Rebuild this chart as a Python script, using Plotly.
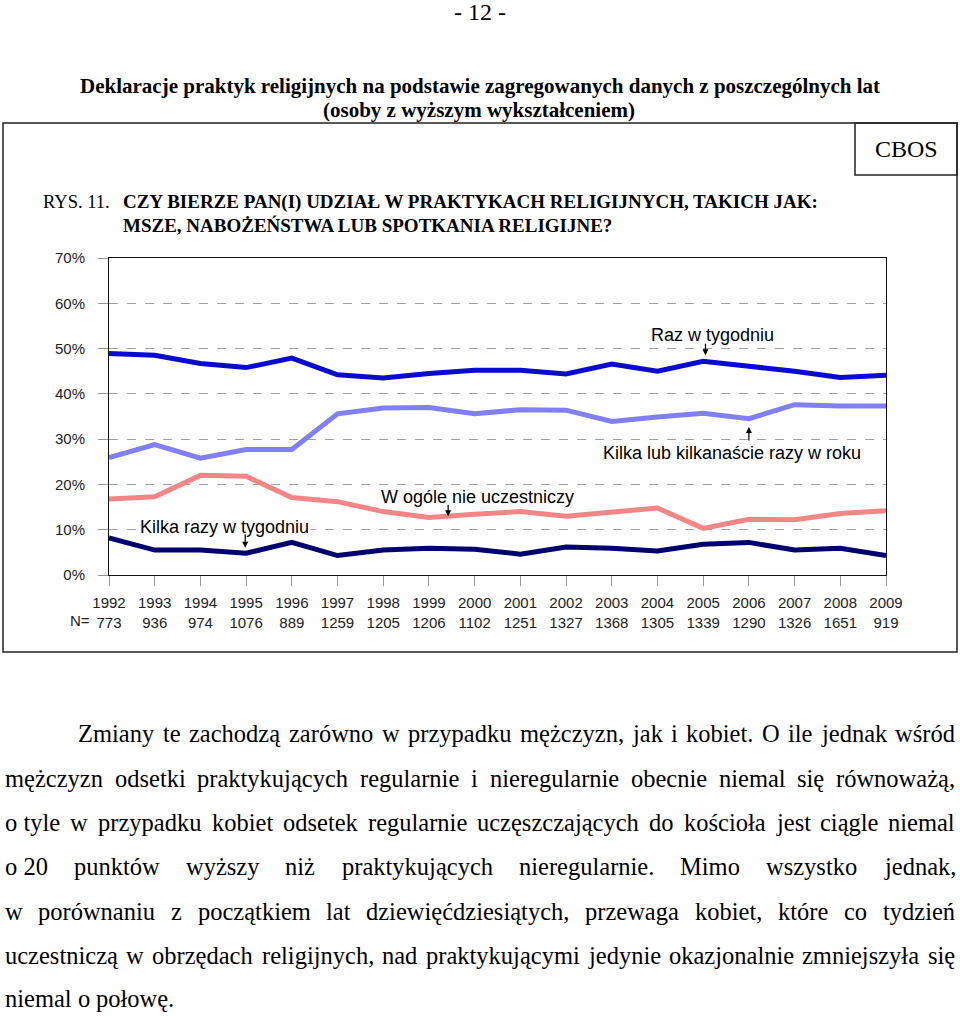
import plotly.graph_objects as go

# ---------------- data ----------------
years = list(range(1992, 2010))
n_sizes = [773, 936, 974, 1076, 889, 1259, 1205, 1206, 1102, 1251, 1327, 1368, 1305, 1339, 1290, 1326, 1651, 919]

raz_w_tygodniu = [48.9, 48.5, 46.7, 45.8, 47.9, 44.2, 43.5, 44.5, 45.2, 45.2, 44.4, 46.6, 45.0, 47.2, 46.1, 45.0, 43.6, 44.1]
kilka_w_roku = [25.9, 28.8, 25.8, 27.7, 27.7, 35.6, 36.9, 37.0, 35.6, 36.5, 36.4, 33.9, 34.9, 35.7, 34.5, 37.6, 37.3, 37.3]
w_ogole_nie = [16.8, 17.3, 22.0, 21.8, 17.1, 16.2, 14.0, 12.7, 13.4, 14.0, 13.0, 13.9, 14.8, 10.3, 12.3, 12.2, 13.6, 14.2]
kilka_w_tygodniu = [8.2, 5.5, 5.5, 4.8, 7.2, 4.3, 5.5, 5.9, 5.7, 4.6, 6.2, 5.9, 5.3, 6.8, 7.2, 5.5, 5.9, 4.3]

series_names = ["Raz w tygodniu", "Kilka lub kilkanaście razy w roku",
                "W ogóle nie uczestniczy", "Kilka razy w tygodniu"]
series_values = [raz_w_tygodniu, kilka_w_roku, w_ogole_nie, kilka_w_tygodniu]
series_colors = ["#0a0ad0", "#8080f4", "#f28686", "#00006e"]

y_ticks = [0, 10, 20, 30, 40, 50, 60, 70]
y_tick_labels = ["0%", "10%", "20%", "30%", "40%", "50%", "60%", "70%"]

page_number = "- 12 -"
title_lines = ["Deklaracje praktyk religijnych na podstawie zagregowanych danych z poszczególnych lat",
               "(osoby z wyższym wykształceniem)"]
question_lines = ["CZY BIERZE PAN(I) UDZIAŁ W PRAKTYKACH RELIGIJNYCH, TAKICH JAK:",
                  "MSZE, NABOŻEŃSTWA LUB SPOTKANIA RELIGIJNE?"]
NB = "\u00a0"
body_lines = [
    "Zmiany te zachodzą zarówno w przypadku mężczyzn, jak i kobiet. O ile jednak wśród",
    "mężczyzn odsetki praktykujących regularnie i nieregularnie obecnie niemal się równoważą,",
    "o" + NB + "tyle w przypadku kobiet odsetek regularnie uczęszczających do kościoła jest ciągle niemal",
    "o" + NB + "20 punktów wyższy niż praktykujących nieregularnie. Mimo wszystko jednak,",
    "w porównaniu z początkiem lat dziewięćdziesiątych, przewaga kobiet, które co tydzień",
    "uczestniczą w obrzędach religijnych, nad praktykującymi jedynie okazjonalnie zmniejszyła się",
    "niemal o połowę.",
]

# ---------------- layout geometry ----------------
W, H = 960, 1016
L, R, T, B = 109, 886, 258, 575
PW, PH = R - L, B - T

def px(x):
    return (x - L) / PW

def py(y):
    return (B - y) / PH

SERIF = "Liberation Serif, Times New Roman, serif"
SANS = "Liberation Sans, Arial, sans-serif"

fig = go.Figure()
for name, vals, col in zip(series_names, series_values, series_colors):
    fig.add_trace(go.Scatter(x=years, y=vals, mode="lines", name=name,
                             line=dict(color=col, width=5), cliponaxis=False))

ann = []
shapes = []

# page number and titles
ann.append(dict(text=page_number, x=px(480), y=py(12), font=dict(family=SERIF, size=24, color="#000")))
ann.append(dict(text="<b>" + title_lines[0] + "</b>", x=px(480), y=py(86), font=dict(family=SERIF, size=21, color="#000")))
ann.append(dict(text="<b>" + title_lines[1] + "</b>", x=px(479), y=py(110), font=dict(family=SERIF, size=21, color="#000")))

# frame
shapes.append(dict(type="rect", xref="paper", yref="paper", x0=px(3), x1=px(957), y0=py(652), y1=py(123),
                   line=dict(color="#222", width=1.5)))
shapes.append(dict(type="rect", xref="paper", yref="paper", x0=px(855), x1=px(957), y0=py(175), y1=py(123),
                   line=dict(color="#222", width=1.5)))
ann.append(dict(text="CBOS", x=px(906), y=py(149), font=dict(family=SERIF, size=24, color="#000")))

ann.append(dict(text="RYS. 11.", x=px(41), y=py(202), xanchor="left", font=dict(family=SERIF, size=18.5, color="#000")))
ann.append(dict(text="<b>" + question_lines[0] + "</b>", x=px(121), y=py(202), xanchor="left", font=dict(family=SERIF, size=19, color="#000")))
ann.append(dict(text="<b>" + question_lines[1] + "</b>", x=px(121), y=py(225), xanchor="left", font=dict(family=SERIF, size=19, color="#000")))

ann.append(dict(text="N=", x=px(80), y=py(620), font=dict(family=SANS, size=15, color="#222")))

# in-chart labels (data coordinates)
lab_font = dict(family=SANS, size=18, color="#000")
ann.append(dict(text=series_names[0], xref="x", yref="y", x=2005.2, y=53.0, font=lab_font, bgcolor="white"))
ann.append(dict(text=series_names[1], xref="x", yref="y", x=2005.63, y=26.9, font=lab_font, bgcolor="white"))
ann.append(dict(text=series_names[2], xref="x", yref="y", x=2000.07, y=17.2, font=lab_font, bgcolor="white"))
ann.append(dict(text=series_names[3], xref="x", yref="y", x=1994.52, y=10.6, font=lab_font, bgcolor="white"))
arrows = [(2005.05, 48.5, -13), (2006.0, 32.7, 15), (1999.42, 13.0, -13), (1994.98, 6.0, -15)]
for ax_, ay_, off in arrows:
    ann.append(dict(text="", xref="x", yref="y", x=ax_, y=ay_, ax=0, ay=off, showarrow=True,
                    arrowhead=2, arrowsize=1, arrowwidth=1.2, arrowcolor="#000"))

# body text (justified, Times metrics)
TW = {' ': 250, NB: 250, 'a': 444, 'b': 500, 'c': 444, 'd': 500, 'e': 444, 'f': 333, 'g': 500, 'h': 500, 'i': 278,
      'j': 278, 'k': 500, 'l': 278, 'm': 778, 'n': 500, 'o': 500, 'p': 500, 'q': 500, 'r': 333, 's': 389,
      't': 278, 'u': 500, 'v': 500, 'w': 722, 'x': 500, 'y': 500, 'z': 444, 'M': 889, 'O': 722, 'Z': 611,
      ',': 250, '.': 250, 'ą': 444, 'ę': 444, 'ó': 500, 'ś': 389, 'ż': 444, 'ź': 444, 'ć': 444, 'ń': 500,
      'ł': 278}

def tw(s, size):
    return sum(TW.get(c, 500) for c in s) / 1000 * size

BODY = 24.5
line_y = [733, 778, 822, 866, 911, 955, 999]
for i, line in enumerate(body_lines):
    words = line.split(" ")
    left = 78 if i == 0 else 5
    right = 955
    widths = [tw(w_, BODY) for w_ in words]
    if i == len(body_lines) - 1:
        gap = 0.25 * BODY
    else:
        gap = (right - left - sum(widths)) / (len(words) - 1)
    x = left
    for w_, wd in zip(words, widths):
        ann.append(dict(text=w_, x=px(x - 2), y=py(line_y[i]), xanchor="left",
                        font=dict(family=SERIF, size=BODY, color="#000")))
        x += wd + gap

for a in ann:
    a.setdefault("xref", "paper")
    a.setdefault("yref", "paper")
    a.setdefault("showarrow", False)
    a.setdefault("yanchor", "middle")
    a.setdefault("xanchor", "center")

fig.update_layout(
    width=W, height=H,
    margin=dict(l=L, r=W - R, t=T, b=H - B, pad=0),
    paper_bgcolor="white", plot_bgcolor="white",
    showlegend=False,
    annotations=ann, shapes=shapes,
    xaxis=dict(range=[1992, 2009], tickvals=years,
               ticktext=[f"{y}<br>{n}" for y, n in zip(years, n_sizes)],
               ticks="outside", ticklen=10, tickcolor="#999", tickwidth=1,
               showgrid=False, zeroline=False, showline=True, linecolor="#111", linewidth=1, mirror=True,
               tickfont=dict(family=SANS, size=15, color="#222"), ticklabelstandoff=4),
    yaxis=dict(range=[0, 70], tickvals=y_ticks, ticktext=y_tick_labels,
               ticks="outside", ticklen=10, tickcolor="#999", tickwidth=1,
               showgrid=True, gridcolor="#a0a0a0", gridwidth=1, griddash="dash",
               zeroline=False, showline=True, linecolor="#111", linewidth=1, mirror=True,
               tickfont=dict(family=SANS, size=15, color="#222"), ticklabelstandoff=10),
)
fig.write_html("out.html", config={"displayModeBar": False},
               post_script="document.body.style.margin='0px';document.body.style.overflow='hidden';")
